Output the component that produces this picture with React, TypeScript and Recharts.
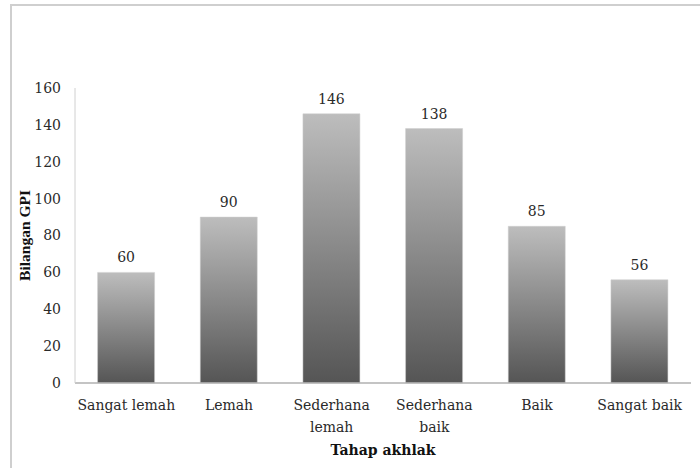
import React from 'react'
import { BarChart, Bar, XAxis, YAxis, LabelList } from 'recharts'

const categories = ['Sangat lemah', 'Lemah', 'Sederhana\nlemah', 'Sederhana\nbaik', 'Baik', 'Sangat baik']
const counts = [60, 90, 146, 138, 85, 56]
const yTicks = [0, 20, 40, 60, 80, 100, 120, 140, 160]

const rows = categories.map((name, i) => ({ name, value: counts[i] }))

const FONT = '"DejaVu Serif", "Liberation Serif", serif'
const TITLE_Y_FONT = '"Liberation Serif", serif'

const XTick = ({ x, y, payload }: any) => {
  const lines = String(payload.value).split('\n')
  return (
    <text x={x} y={y} textAnchor="middle" fontFamily={FONT} fontSize={14} fill="#2a2a2a">
      {lines.map((l: string, i: number) => (
        <tspan key={i} x={x} dy={i === 0 ? 19 : 22}>{l}</tspan>
      ))}
    </text>
  )
}

const YTitle = ({ viewBox }: any) => {
  const cx = 24
  const cy = viewBox.y + viewBox.height / 2
  return (
    <text x={cx} y={cy} transform={`rotate(-90 ${cx} ${cy})`} textAnchor="middle" dominantBaseline="central"
      fontFamily={TITLE_Y_FONT} fontSize={15.5} fontWeight="bold" fill="#111">
      Bilangan GPI
    </text>
  )
}

const XTitle = ({ viewBox }: any) => {
  const cx = viewBox.x + viewBox.width / 2
  return (
    <text x={cx} y={455} textAnchor="middle" fontFamily={FONT} fontSize={14} fontWeight="bold" fill="#111">
      Tahap akhlak
    </text>
  )
}

export default function App() {
  return (
    <div style={{ position: 'absolute', left: 0, top: 0, width: 700, height: 468, background: '#fff', overflow: 'hidden' }}>
      <div style={{ position: 'absolute', left: 10, top: 4, width: 700, height: 470, borderLeft: '2px solid #cfcfcf', borderTop: '2px solid #cfcfcf' }} />
      <div style={{ position: 'absolute', left: 0, top: 0 }}>
        <BarChart width={700} height={468} data={rows} margin={{ top: 88, right: 9, left: 20, bottom: 0 }} barCategoryGap="22%">
          <defs>
            <linearGradient id="barGrad" x1="0" y1="0" x2="0" y2="1">
              <stop offset="0%" stopColor="#bdbdbd" />
              <stop offset="100%" stopColor="#555555" />
            </linearGradient>
          </defs>
          <XAxis dataKey="name" interval={0} tickLine={false} axisLine={{ stroke: '#b0b0b0', strokeWidth: 1.5 }}
            tick={<XTick />} height={85} label={<XTitle />} />
          <YAxis domain={[0, 160]} ticks={yTicks} width={55} tickLine={false} tickSize={0} tickMargin={14}
            axisLine={{ stroke: '#d0d0d0' }} tick={{ fontFamily: FONT, fontSize: 14, fill: '#2a2a2a' }}
            label={<YTitle />} />
          <Bar dataKey="value" fill="url(#barGrad)" stroke="#cfcfcf" strokeWidth={0.5} isAnimationActive={false}>
            <LabelList dataKey="value" position="top" offset={10} fontFamily={FONT} fontSize={14} fill="#2a2a2a" />
          </Bar>
        </BarChart>
      </div>
    </div>
  )
}
